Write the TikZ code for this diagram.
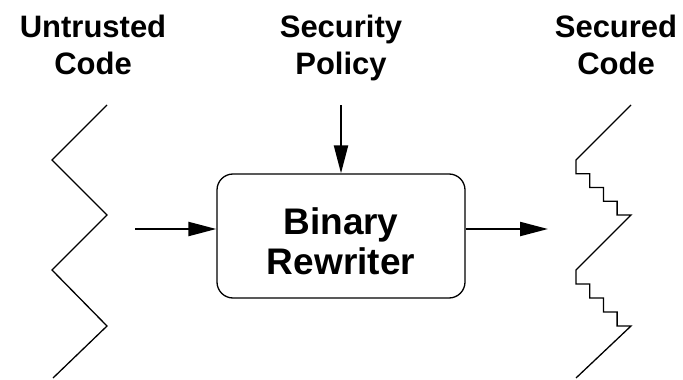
\documentclass[tikz,border=0pt]{standalone}
\usepackage{fontspec}
\setmainfont{Liberation Sans}
\usetikzlibrary{arrows.meta}
\begin{document}
\begin{tikzpicture}[x=1pt,y=-1pt,
  title/.style={font=\bfseries\fontsize{31}{37}\selectfont, align=center, anchor=base, inner sep=0pt},
  rewriter/.style={draw, line width=1.3pt, rounded corners=16pt, minimum width=248pt, minimum height=124pt,
    font=\bfseries\fontsize{37}{40}\selectfont, align=center, inner sep=0pt},
  flow/.style={line width=2.2pt, -{Triangle[length=28pt,width=14pt]}},
  code/.style={line width=1.3pt, line join=miter}]
\useasboundingbox (0,0) rectangle (683,380);
\node[title] (untrusted) at (93,74) {Untrusted\\Code};
\node[title] (policy) at (341,74) {Security\\Policy};
\node[title] (secured) at (616,74) {Secured\\Code};
\node[rewriter] (rw) at (341,236) {\rule{0pt}{38pt}Binary\\Rewriter};
\coordinate (inA) at (135,229);
\coordinate (polA) at (341,105);
\coordinate (outB) at (548,229);
\draw[flow] (inA) -- (rw.west |- inA);
\draw[flow] (polA) -- (rw.north);
\draw[flow] (rw.east |- outB) -- (outB);
\draw[code] (107,105) -- (52,160) -- (107,215) -- (52,270) -- (107,326) -- (53,378);
\draw[code] (631,105) -- (576,160)
  -- (576,173.7) -- (589.7,173.7) -- (589.7,187.5) -- (603.4,187.5) -- (603.4,201.3) -- (617.1,201.3) -- (617.1,215) -- (631,215)
  -- (576,270)
  -- (576,283.9) -- (589.7,283.9) -- (589.7,297.9) -- (603.4,297.9) -- (603.4,312) -- (617.1,312) -- (617.1,326) -- (631,326)
  -- (576,378);
\end{tikzpicture}
\end{document}
